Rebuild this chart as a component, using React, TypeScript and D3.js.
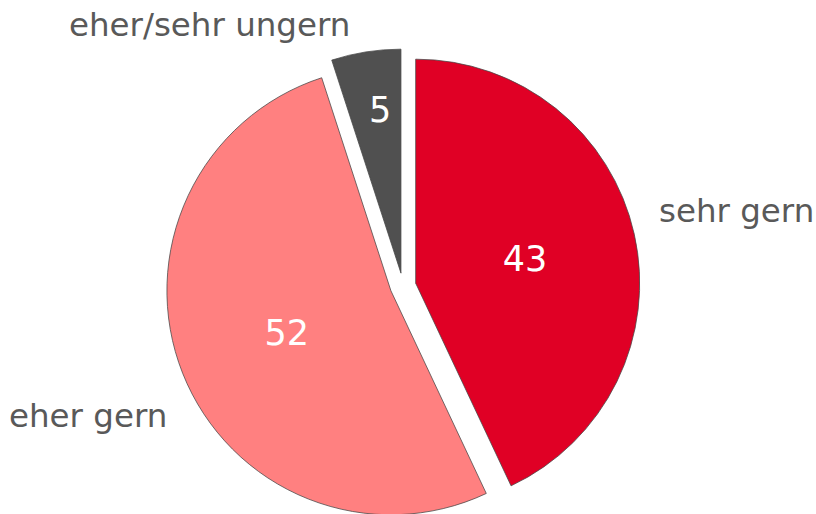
import { useEffect, useRef } from 'react';
import * as d3 from 'd3';

// chart data
const categories = ['sehr gern', 'eher gern', 'eher/sehr ungern'];
const values = [43, 52, 5];
const colors = ['#e00025', '#ff8080', '#505050'];

// outer label placement (angle in degrees from 12 o'clock, distance from pie centre)
const labelAngles = [73.5, 241.2, 323.5];
const labelDists = [267, 269, 325];
const labelAnchors = ['start', 'end', 'middle'];

const W = 816;
const H = 514;

export default function App() {
  const svgRef = useRef<SVGSVGElement>(null);

  useEffect(() => {
    if (!svgRef.current) return;
    const svg = d3.select(svgRef.current);
    svg.selectAll('*').remove();

    const cx = 403;
    const cy = 286;
    const radius = 224;
    const explode = 13;

    const pie = d3.pie<number>().value(d => d).sort(null);
    const arcs = pie(values);
    const arc = d3.arc<d3.PieArcDatum<number>>().innerRadius(0).outerRadius(radius);

    const g = svg.append('g').attr('transform', `translate(${cx},${cy})`);

    const slices = g.selectAll('g.slice')
      .data(arcs)
      .enter()
      .append('g')
      .attr('class', 'slice')
      .attr('transform', d => {
        const mid = (d.startAngle + d.endAngle) / 2;
        return `translate(${explode * Math.sin(mid)},${-explode * Math.cos(mid)})`;
      });

    slices.append('path')
      .attr('d', arc)
      .attr('fill', (_, i) => colors[i])
      .attr('stroke', '#444')
      .attr('stroke-width', 0.75);

    // value labels inside the slices (small slices get pushed outwards)
    const labelPos = (d: d3.PieArcDatum<number>) => {
      const mid = (d.startAngle + d.endAngle) / 2;
      const small = d.endAngle - d.startAngle < 0.5;
      const f = small ? 0.735 : 0.5;
      const a = small ? mid + 0.03 : mid;
      return [radius * f * Math.sin(a), -radius * f * Math.cos(a)];
    };

    slices.append('text')
      .attr('x', d => labelPos(d)[0])
      .attr('y', d => labelPos(d)[1])
      .attr('text-anchor', 'middle')
      .attr('dy', '0.36em')
      .style('font-family', 'Verdana, "DejaVu Sans", sans-serif')
      .style('font-size', '35px')
      .style('fill', '#ffffff')
      .text(d => d.data);

    // category labels
    categories.forEach((name, i) => {
      const a = (labelAngles[i] * Math.PI) / 180;
      g.append('text')
        .attr('x', labelDists[i] * Math.sin(a))
        .attr('y', -labelDists[i] * Math.cos(a))
        .attr('text-anchor', labelAnchors[i])
        .attr('dy', '0.36em')
        .style('font-family', 'Verdana, "DejaVu Sans", sans-serif')
        .style('font-size', '32.5px')
        .style('fill', '#595959')
        .text(name);
    });
  }, []);

  return (
    <svg
      ref={svgRef}
      width={W}
      height={H}
      style={{ position: 'absolute', left: 0, top: 0, background: '#fff' }}
    />
  );
}
